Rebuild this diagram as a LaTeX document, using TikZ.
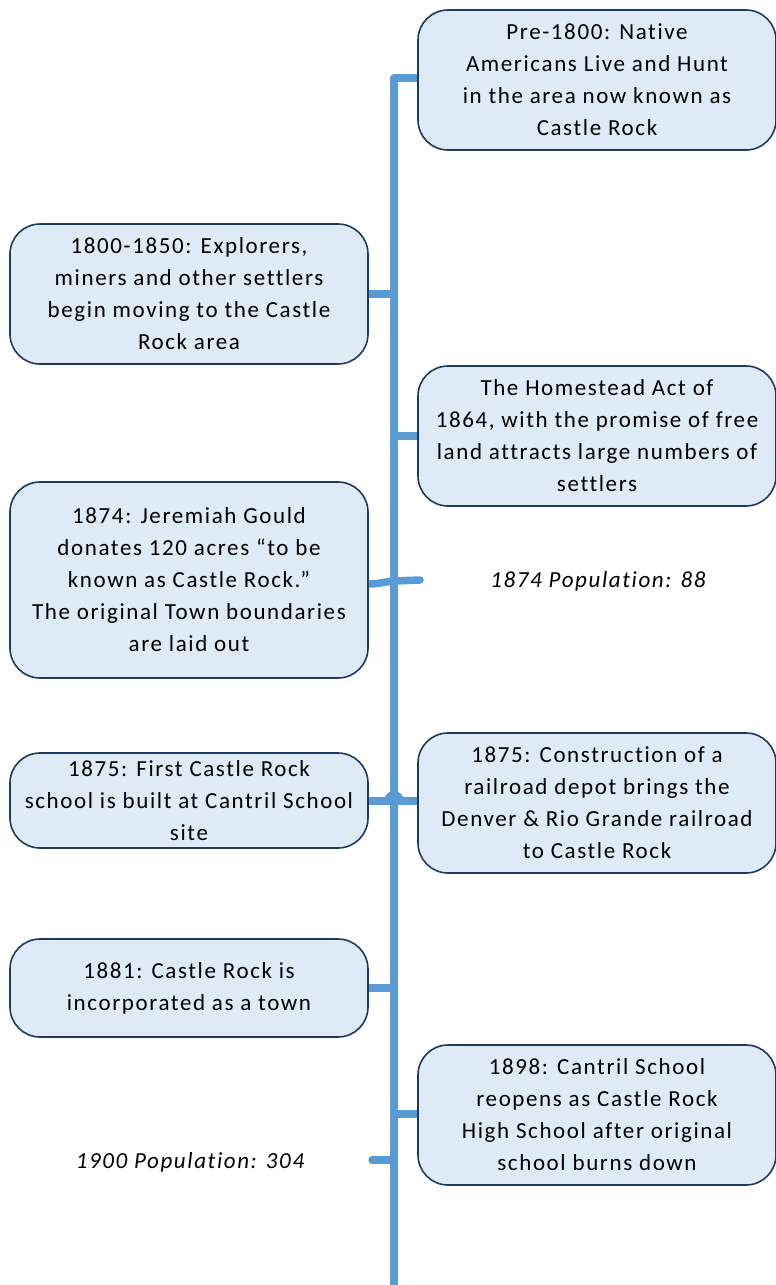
\documentclass[tikz,border=0pt]{standalone}
\usepackage{fontspec}
\setmainfont{Carlito}[LetterSpace=7,Ligatures=CommonOff]
\definecolor{boxfill}{HTML}{DEEAF6}
\definecolor{boxline}{HTML}{1F3A60}
\definecolor{spine}{HTML}{5B9BD5}
\begin{document}
\begin{tikzpicture}[x=1pt,y=-1pt,
  evbox/.style={draw=boxline,line width=1.6pt,fill=boxfill,rounded corners=30pt,
    minimum width=358pt,align=center,inner sep=0pt,
    font=\fontsize{23}{32}\selectfont,text=black},
  poplabel/.style={font=\fontsize{23}{32}\selectfont\itshape,text=black},
  link/.style={draw=spine,line width=7.5pt},
  linkr/.style={draw=spine,line width=7.5pt,line cap=round}]
\useasboundingbox (0,0) rectangle (776,1285);
% boxes
\node[evbox,minimum height=140pt] (b1) at (597,80) {Pre-1800: Native\\Americans Live and Hunt\\in the area now known as\\Castle Rock};
\node[evbox,minimum height=140pt] (b2) at (189,294) {1800-1850: Explorers,\\miners and other settlers\\begin moving to the Castle\\Rock area};
\node[evbox,minimum height=140pt] (b3) at (597,436) {The Homestead Act of\\1864, with the promise of free\\land attracts large numbers of\\settlers};
\node[evbox,minimum height=196pt] (b4) at (189,580) {1874: Jeremiah Gould\\donates 120 acres “to be\\known as Castle Rock.”\\The original Town boundaries\\are laid out};
\node[evbox,minimum height=95pt] (b5) at (189,800.5) {1875: First Castle Rock\\school is built at Cantril School\\site};
\node[evbox,minimum height=140pt] (b6) at (597,803) {1875: Construction of a\\railroad depot brings the\\Denver \& Rio Grande railroad\\to Castle Rock};
\node[evbox,minimum height=98pt] (b7) at (189,988) {1881: Castle Rock is\\incorporated as a town};
\node[evbox,minimum height=140pt] (b8) at (597,1115) {1898: Cantril School\\reopens as Castle Rock\\High School after original\\school burns down};
\node[poplabel] (p1) at (598,581) {1874 Population: 88};
\node[poplabel] (p2) at (190,1162) {1900 Population: 304};
% spine coordinates
\coordinate (top) at (394,78);
\coordinate (bot) at (394,1285);
\coordinate (s2) at (394,294);
\coordinate (s3) at (394,436);
\coordinate (s4) at (394,581);
\coordinate (e4) at (420,580);
\coordinate (s5) at (394,801);
\coordinate (s7) at (394,988);
\coordinate (s8) at (394,1114);
\coordinate (s9) at (394,1160);
\coordinate (e9) at (372,1160);
% connectors
\draw[link,line join=round] (b1.west |- top) -- (top) -- (bot);
\draw[link] (b2.east |- s2) -- (s2);
\draw[link] (s3) -- (b3.west |- s3);
\draw[link] ([yshift=-3pt]b4.east |- s4) to[out=0,in=185] (s4);
\draw[linkr] (s4) -- (e4);
\draw[link] (b5.east |- s5) -- (s5);
\draw[link] (s5) -- (b6.west |- s5);
\fill[spine] ([xshift=-10pt]s5) arc[start angle=180,end angle=0,radius=10pt] -- cycle;
\draw[link] (b7.east |- s7) -- (s7);
\draw[link] (s8) -- (b8.west |- s8);
\draw[linkr] (e9) -- (s9);
\end{tikzpicture}
\end{document}
